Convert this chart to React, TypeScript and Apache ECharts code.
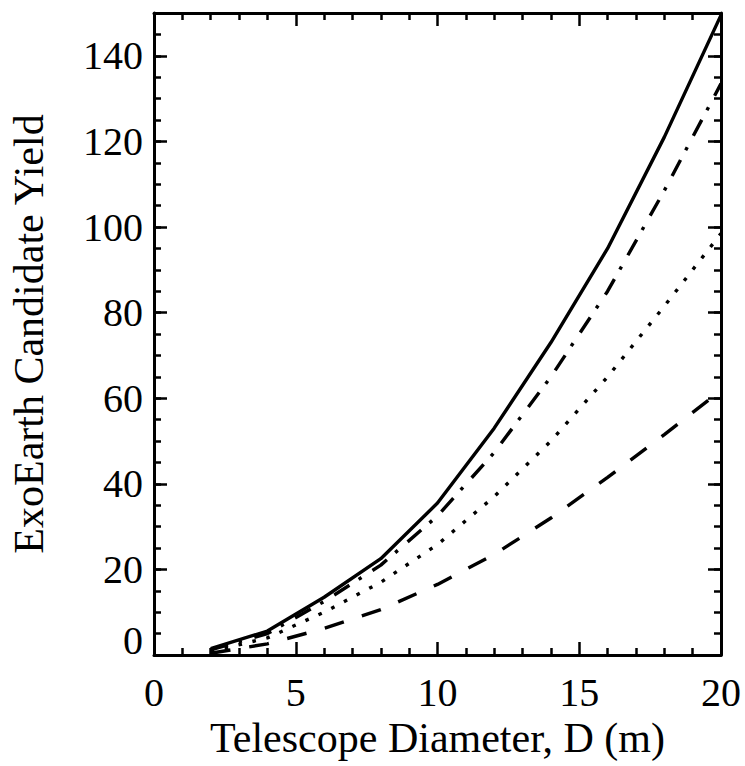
import React, { useEffect, useRef } from "react";
import * as echarts from "echarts";

const diameters = [2, 4, 6, 8, 10, 12, 14, 16, 18, 20];
const solidYield = [1.5, 5.6, 13.5, 22.5, 35.5, 53, 73, 95, 121, 149.5];
const dashDotYield = [1.2, 5, 12.5, 21, 32.5, 47.3, 65, 85, 108.5, 133.5];
const dottedYield = [0.8, 4, 10, 17, 25.8, 37, 50, 65, 81.5, 98.5];
const dashedYield = [0.4, 2.6, 6.2, 10.6, 16.5, 23.5, 32, 41.5, 51.5, 61.8];

const xTitle = "Telescope Diameter, D (m)";
const yTitle = "ExoEarth Candidate Yield";

const FONT = "Liberation Serif, Times New Roman, serif";

export default function App() {
  const ref = useRef<HTMLDivElement>(null);
  useEffect(() => {
    if (!ref.current) return;
    const chart = echarts.init(ref.current, null, { renderer: "svg" });
    const pair = (ys: number[]) => diameters.map((d, i) => [d, ys[i]]);
    const axisLine = { show: true, onZero: false, lineStyle: { color: "#000", width: 3 } };
    const hiddenLine = { show: false, onZero: false };
    const tickStyle = { color: "#000", width: 2.5 };
    const mkSeries = (name: string, ys: number[], type: any) => ({
      name,
      type: "line",
      data: pair(ys),
      showSymbol: false,
      symbol: "none",
      xAxisIndex: 0,
      yAxisIndex: 0,
      lineStyle: { color: "#000", width: 3.4, type },
      z: 5,
    });
    chart.setOption({
      animation: false,
      backgroundColor: "#fff",
      grid: { left: 152, right: 24, top: 13, bottom: 111, containLabel: false },
      xAxis: [
        {
          type: "value",
          position: "bottom",
          min: 0,
          max: 20,
          interval: 5,
          name: xTitle,
          nameLocation: "middle",
          nameGap: 59,
          nameTextStyle: { fontFamily: FONT, fontSize: 42, color: "#000" },
          axisLine,
          axisTick: { inside: true, length: 13, lineStyle: tickStyle },
          minorTick: { show: true, splitNumber: 5, length: 7, lineStyle: tickStyle },
          splitLine: { show: false },
          axisLabel: { fontFamily: FONT, fontSize: 40, color: "#000", margin: 17 },
        },
        {
          type: "value",
          position: "top",
          min: 0,
          max: 20,
          interval: 5,
          axisLine,
          axisTick: { inside: true, length: 13, lineStyle: tickStyle },
          minorTick: { show: true, splitNumber: 5, length: 7, lineStyle: tickStyle },
          splitLine: { show: false },
          axisLabel: { show: false },
        },
      ],
      yAxis: [
        {
          type: "value",
          position: "left",
          min: 0,
          max: 150,
          interval: 20,
          name: yTitle,
          nameLocation: "middle",
          nameGap: 104,
          nameTextStyle: { fontFamily: FONT, fontSize: 42, color: "#000" },
          axisLine,
          axisTick: { inside: true, length: 13, lineStyle: tickStyle },
          splitLine: { show: false },
          axisLabel: {
            fontFamily: FONT,
            fontSize: 40,
            color: "#000",
            margin: 11,
            showMaxLabel: false,
            formatter: (v: number) => (v === 0 ? "{z|0}" : String(v)),
            rich: { z: { fontFamily: FONT, fontSize: 40, color: "#000", padding: [0, 0, 30, 0] } },
          },
        },
        {
          type: "value",
          position: "right",
          min: 0,
          max: 150,
          interval: 20,
          axisLine,
          axisTick: { inside: true, length: 13, lineStyle: tickStyle },
          splitLine: { show: false },
          axisLabel: { show: false },
        },
        {
          type: "value",
          position: "left",
          min: 0,
          max: 150,
          interval: 5,
          axisLine: hiddenLine,
          axisTick: { inside: true, length: 7, lineStyle: tickStyle },
          splitLine: { show: false },
          axisLabel: { show: false },
        },
        {
          type: "value",
          position: "right",
          min: 0,
          max: 150,
          interval: 5,
          axisLine: hiddenLine,
          axisTick: { inside: true, length: 7, lineStyle: tickStyle },
          splitLine: { show: false },
          axisLabel: { show: false },
        },
      ],
      series: [
        mkSeries("solid", solidYield, "solid"),
        mkSeries("dashdot", dashDotYield, [18, 11, 3.4, 13]),
        mkSeries("dotted", dottedYield, [3.6, 10.7]),
        mkSeries("dashed", dashedYield, [20, 19]),
      ],
    });
    return () => chart.dispose();
  }, []);
  return <div ref={ref} style={{ width: 745, height: 766, position: "absolute", left: 0, top: 0 }} />;
}
